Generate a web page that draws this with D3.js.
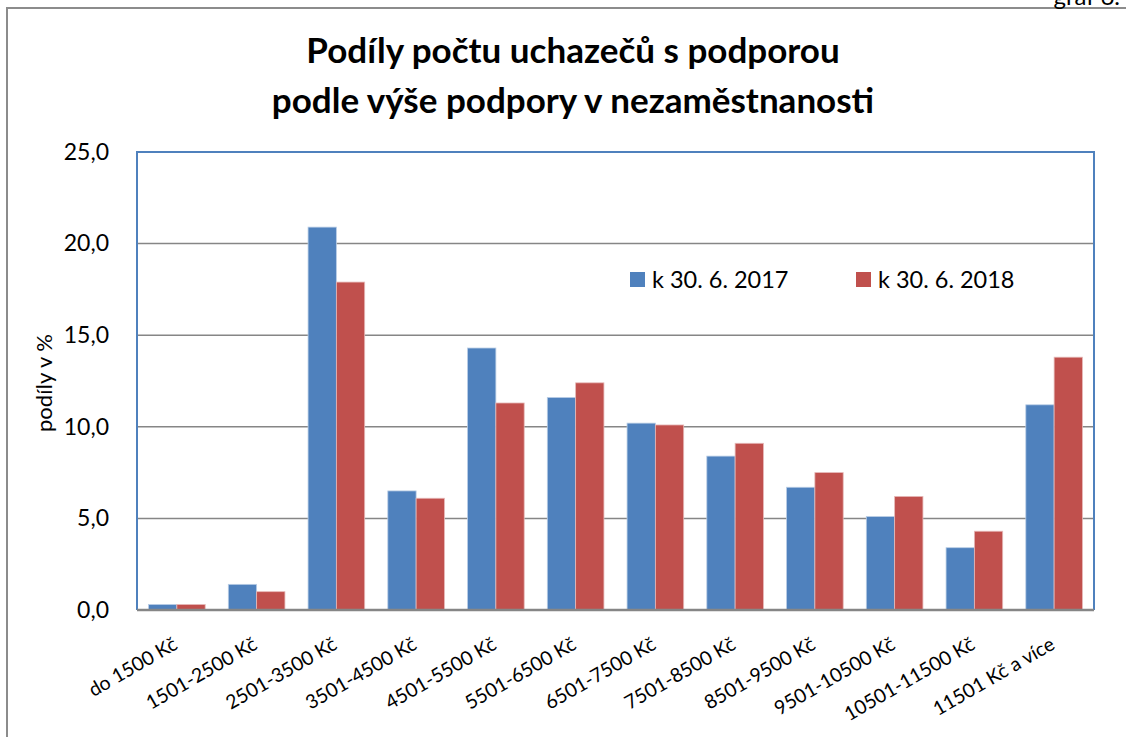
<!DOCTYPE html>
<html>
<head>
<meta charset="utf-8">
<script src="https://cdn.jsdelivr.net/npm/d3@7"></script>
<style>
  body { margin: 0; background: #fff; }
  svg { display: block; font-family: Lato, "Open Sans", sans-serif; }
</style>
</head>
<body>
<div id="chart"></div>
<script>
// Data
const categories = ["do 1500 Kč", "1501-2500 Kč", "2501-3500 Kč", "3501-4500 Kč", "4501-5500 Kč",
    "5501-6500 Kč", "6501-7500 Kč", "7501-8500 Kč", "8501-9500 Kč", "9501-10500 Kč",
    "10501-11500 Kč", "11501 Kč a více"];
const series = ["k 30. 6. 2017", "k 30. 6. 2018"];
const values2017 = [0.3, 1.4, 20.9, 6.5, 14.3, 11.6, 10.2, 8.4, 6.7, 5.1, 3.4, 11.2];
const values2018 = [0.3, 1.0, 17.9, 6.1, 11.3, 12.4, 10.1, 9.1, 7.5, 6.2, 4.3, 13.8];
const yTicks = [0, 5, 10, 15, 20, 25];
const colors = ["#4F81BD", "#C0504D"];

const W = 1126, H = 737;
const margin = {top: 152, right: 32, bottom: 127, left: 137};
const width = W - margin.left - margin.right;
const height = H - margin.top - margin.bottom;

const svg = d3.select("#chart").append("svg")
    .attr("width", W)
    .attr("height", H);

// Outer chart frame
svg.append("path")
    .attr("d", `M7,${H + 5} V8 H${W + 5}`)
    .attr("fill", "none")
    .attr("stroke", "#8c8c8c")
    .attr("stroke-width", 2);

// page label, partly cut by the top edge as in the original
svg.append("text")
    .attr("x", 1120)
    .attr("y", 5)
    .attr("text-anchor", "end")
    .style("font-size", "24px")
    .text("graf 6.");

// Title
const title = svg.append("text")
    .attr("text-anchor", "middle")
    .style("font-size", "35px")
    .style("font-weight", "bold");
title.append("tspan").attr("x", 573).attr("y", 63).text("Podíly počtu uchazečů s podporou");
title.append("tspan").attr("x", 573).attr("y", 113).text("podle výše podpory v nezaměstnanosti");

const g = svg.append("g")
    .attr("transform", `translate(${margin.left}, ${margin.top})`);

const x = d3.scaleBand()
    .domain(categories)
    .range([0, width])
    .paddingInner(0.29)
    .paddingOuter(0.145);

const xSub = d3.scaleBand()
    .domain(series)
    .range([0, x.bandwidth()]);

const y = d3.scaleLinear()
    .domain([0, 25])
    .range([height, 0]);

// Gridlines
g.selectAll(".grid")
    .data(yTicks.filter(d => d > 0 && d < 25))
    .enter()
    .append("line")
    .attr("x1", 0)
    .attr("x2", width)
    .attr("y1", d => y(d))
    .attr("y2", d => y(d))
    .attr("stroke", "#868686")
    .attr("stroke-width", 1.5);

// Bars
const rows = categories.map((c, i) => ({cat: c, vals: [values2017[i], values2018[i]]}));
const groups = g.selectAll(".grp")
    .data(rows)
    .enter()
    .append("g")
    .attr("transform", d => `translate(${x(d.cat)}, 0)`);

groups.selectAll("rect")
    .data(d => d.vals.map((v, j) => ({s: series[j], v: v, j: j})))
    .enter()
    .append("rect")
    .attr("x", d => xSub(d.s))
    .attr("width", xSub.bandwidth())
    .attr("y", d => y(d.v))
    .attr("height", d => y(0) - y(d.v))
    .attr("fill", d => colors[d.j])
    .attr("stroke", d => d.j === 0 ? "#b9cde5" : "#e6b9b8")
    .attr("stroke-width", 0.8);

// Plot area border (left, top, right) and bottom axis line
g.append("path")
    .attr("d", `M0,${height} V0 H${width} V${height}`)
    .attr("fill", "none")
    .attr("stroke", "#4F81BD")
    .attr("stroke-width", 2);

g.append("line")
    .attr("x1", 0)
    .attr("x2", width)
    .attr("y1", height)
    .attr("y2", height)
    .attr("stroke", "#868686")
    .attr("stroke-width", 2.5);

// Y axis labels
const yAxis = g.append("g")
    .call(d3.axisLeft(y).tickValues(yTicks).tickSize(0).tickPadding(28)
        .tickFormat(d => d3.format(".1f")(d).replace(".", ",")));
yAxis.select(".domain").remove();
yAxis.selectAll("text")
    .style("font-family", "Lato, sans-serif")
    .style("font-size", "23px")
    .attr("fill", "#000");

// X axis labels, rotated
g.selectAll(".xlabel")
    .data(categories)
    .enter()
    .append("text")
    .attr("text-anchor", "end")
    .attr("transform", d => `translate(${x(d) + x.bandwidth() / 2 + 2}, ${height + 38}) rotate(-30)`)
    .style("font-size", "19.5px")
    .text(d => d);

// Y axis title
svg.append("text")
    .attr("transform", "translate(52, 383) rotate(-90)")
    .attr("text-anchor", "middle")
    .style("font-size", "22px")
    .text("podíly v %");

// Legend
const legend = svg.append("g");
const legendX = [630, 856];
series.forEach((s, i) => {
    legend.append("rect")
        .attr("x", legendX[i])
        .attr("y", 272)
        .attr("width", 15)
        .attr("height", 15)
        .attr("fill", colors[i]);
    legend.append("text")
        .attr("x", legendX[i] + 22)
        .attr("y", 288)
        .style("font-size", "23.5px")
        .text(s);
});
</script>
</body>
</html>
